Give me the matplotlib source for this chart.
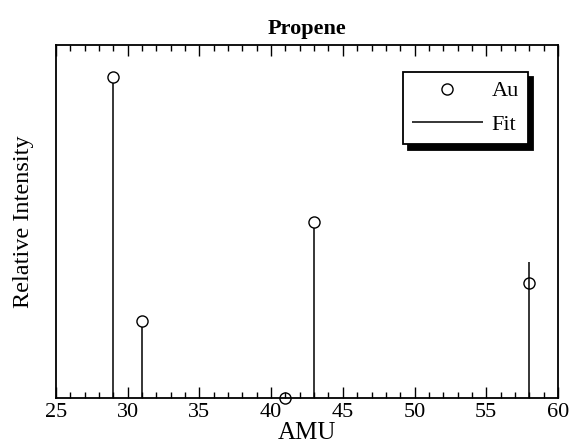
import matplotlib
matplotlib.use("Agg")
import matplotlib.pyplot as plt
from matplotlib.ticker import MultipleLocator

plt.rcParams['font.family'] = ['Liberation Serif', 'DejaVu Serif']

# measured (Au) and fitted intensities per mass
amu = [29, 31, 41, 43, 58]
au = [0.909, 0.218, 0.0, 0.499, 0.326]
fit = [0.892, 0.201, 0.0, 0.482, 0.385]

fig = plt.figure(figsize=(5.7, 4.44), dpi=100)
ax = fig.add_axes([0.098, 0.104, 0.881, 0.795])

ln = ax.vlines(amu, 0, fit, colors='black', linewidth=1.1, label='Fit', zorder=2)
pt, = ax.plot(amu, au, 'o', mfc='none', mec='black', ms=8, mew=1.0,
              label='Au', clip_on=False, zorder=3)

ax.set_xlim(25, 60)
ax.set_ylim(0, 1)
ax.xaxis.set_major_locator(MultipleLocator(5))
ax.xaxis.set_minor_locator(MultipleLocator(1))
ax.tick_params(axis='x', which='both', direction='in', top=True, bottom=True,
               labelsize=16, pad=4)
ax.tick_params(axis='x', which='major', length=8, width=1.0)
ax.tick_params(axis='x', which='minor', length=4, width=1.0)
ax.tick_params(axis='y', which='both', left=False, right=False, labelleft=False)
for s in ax.spines.values():
    s.set_linewidth(1.3)

ax.set_xlabel('AMU', fontsize=18, labelpad=0)
ax.set_ylabel('Relative Intensity', fontsize=17.5, labelpad=16)
ax.set_title('Propene', fontsize=16, fontweight='bold', pad=8)

leg = ax.legend([pt, ln], ['Au', 'Fit'], loc='upper right',
                bbox_to_anchor=(0.940, 0.9235),
                borderaxespad=0, fancybox=False, fontsize=16,
                handlelength=3.2, handletextpad=0.4, borderpad=0.4,
                labelspacing=0.6,
                shadow={'color': 'black', 'alpha': 1, 'ox': 4, 'oy': -4})
leg.get_frame().set_edgecolor('black')
leg.get_frame().set_linewidth(1.3)

fig.savefig('out.png', dpi=100)
